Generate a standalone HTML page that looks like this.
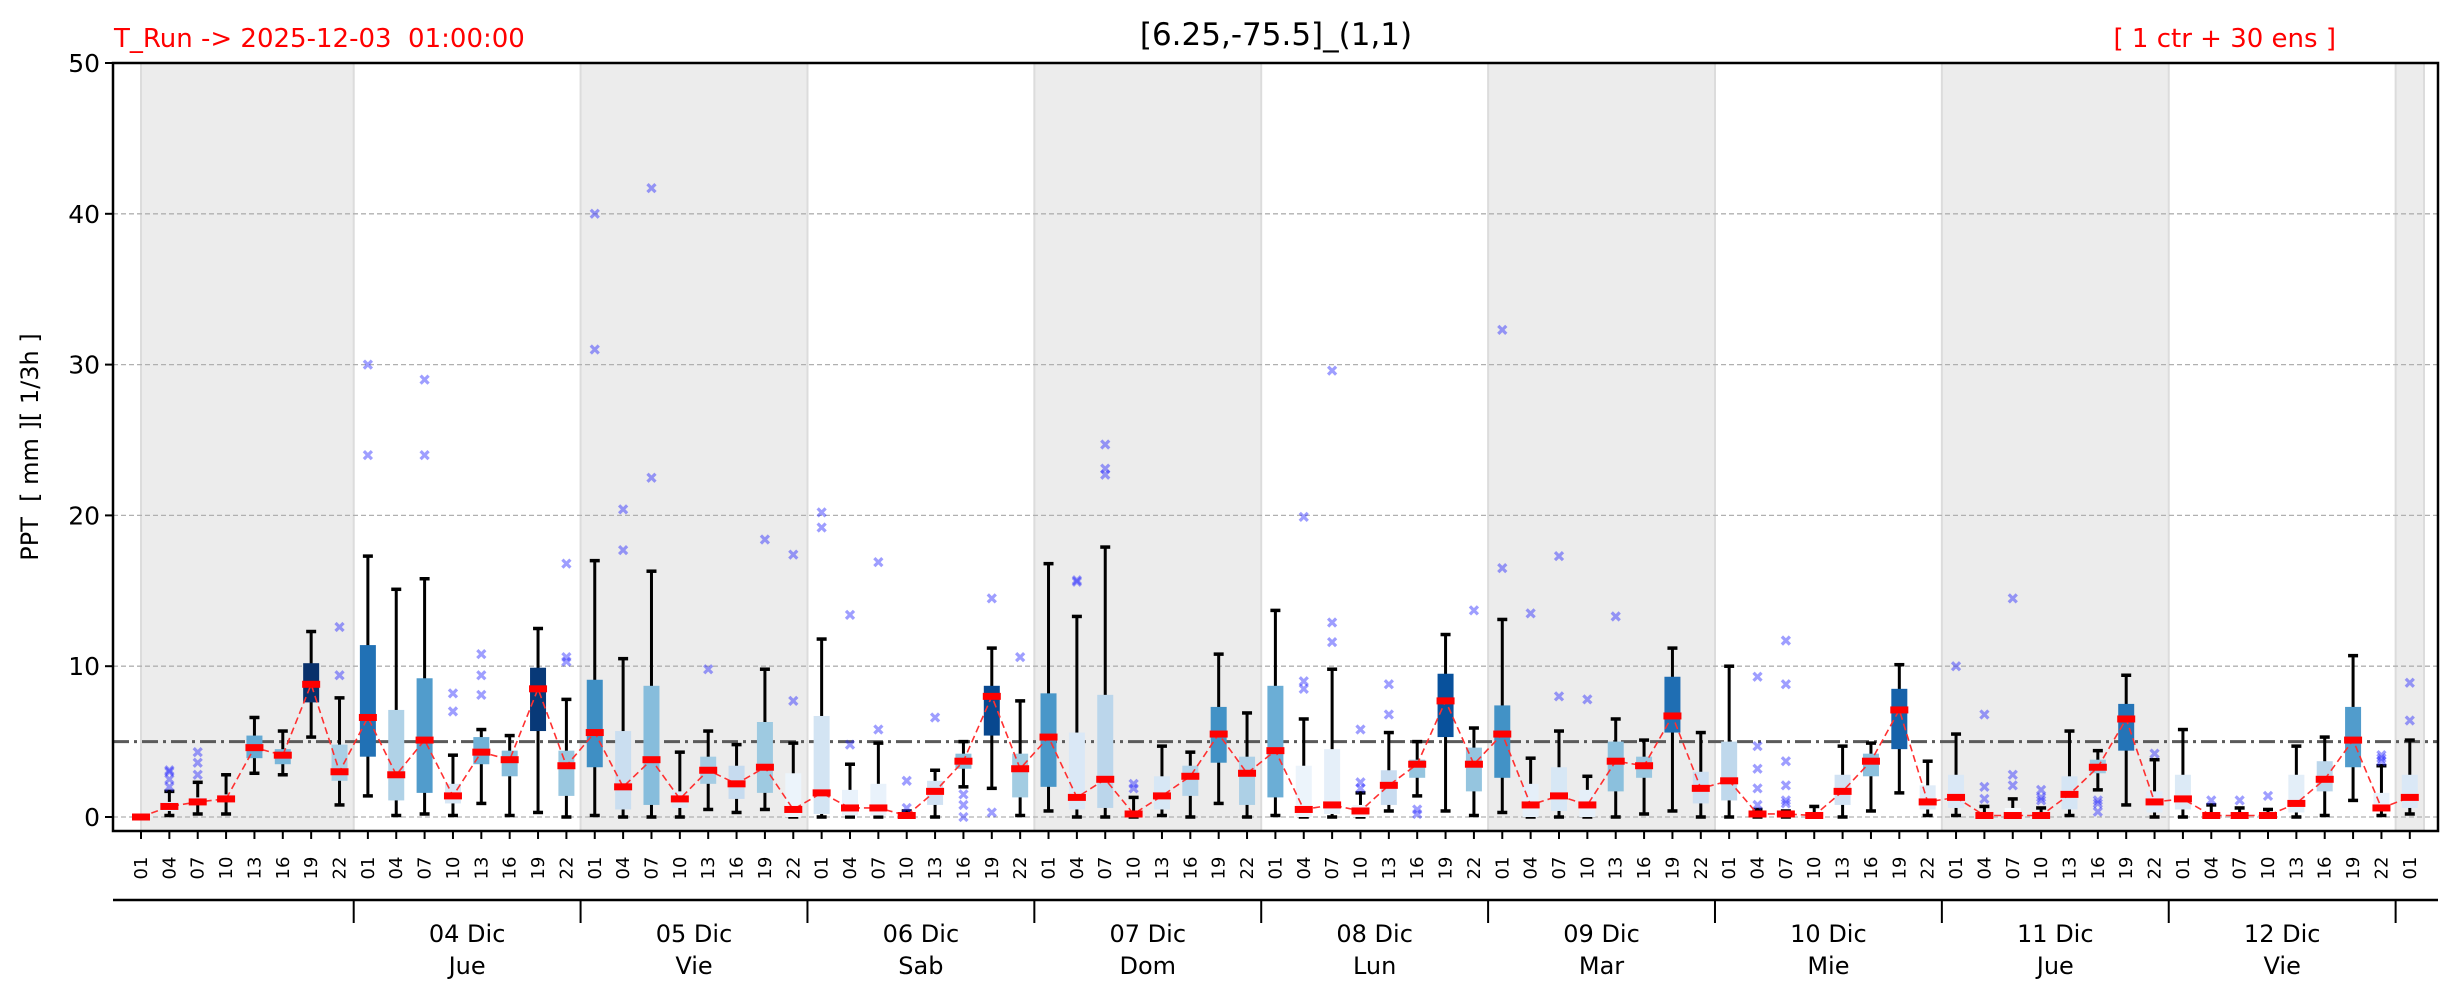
<!DOCTYPE html>
<html><head><meta charset="utf-8"><style>
html,body{margin:0;padding:0;background:#fff;}
svg{display:block;font-family:"DejaVu Sans","Liberation Sans",sans-serif;}
text{white-space:pre;}
</style></head><body>
<svg id="chart" xmlns="http://www.w3.org/2000/svg" width="2459" height="1001" viewBox="0 0 2459 1001">
<text x="114" y="47" font-size="26" fill="#ff0000" xml:space="preserve">T_Run -&gt; 2025-12-03  01:00:00</text>
<text x="1276" y="45" font-size="31" text-anchor="middle" fill="#000">[6.25,-75.5]_(1,1)</text>
<text x="2336" y="47" font-size="26" text-anchor="end" fill="#ff0000">[ 1 ctr + 30 ens ]</text>
<text transform="translate(38,447) rotate(-90)" font-size="24" text-anchor="middle" xml:space="preserve">PPT  [ mm ][ 1/3h ]</text>
<g id="bands"></g><g id="grid"></g><g id="marks"></g><g id="axes"></g>
</svg>
<script>
const lo  =[0,.1,.2,.2,2.9,2.8,5.3,.8,1.4,.1,.2,.1,.9,.1,.3,0,.1,0,0,0,.5,.3,.5,0,0,0,0,.1,0,2.0,1.9,.1,.4,0,0,0,.1,0,.9,0,.1,0,0,0,.4,1.4,.4,.1,.3,0,0,0,0,.2,.4,0,0,0,0,0,0,.4,1.6,.1,.1,.1,0,.1,.1,1.8,.8,0,0,.1,.1,.1,0,.1,1.1,.1,.2];
const q1  =[0,.4,.8,1.0,3.9,3.5,7.6,2.4,4.0,1.1,1.6,.9,3.5,2.7,5.7,1.4,3.3,.5,.8,.6,2.2,1.2,1.6,0,.2,.1,.1,.1,.8,3.2,5.4,1.3,2.0,.5,.6,.1,.5,1.4,3.6,.8,1.3,0,.2,0,.8,2.6,5.3,1.7,2.6,0,.4,0,1.7,2.6,5.6,.9,1.1,.1,.1,.05,.8,2.7,4.5,.5,.6,.1,0,.1,.5,2.9,4.4,.3,.5,.1,.1,.1,.3,1.7,3.3,.6,.6];
const q3  =[0,1.0,1.3,1.5,5.4,4.5,10.2,4.8,11.4,7.1,9.2,2.2,5.3,4.4,9.9,4.4,9.1,5.7,8.7,1.7,4.0,3.4,6.3,2.9,6.7,1.8,2.2,.2,2.4,4.2,8.7,4.2,8.2,5.6,8.1,.3,2.7,3.4,7.3,4.0,8.7,3.4,4.5,.8,3.1,3.8,9.5,4.6,7.4,2.2,3.3,1.8,5.0,4.0,9.3,3.0,5.0,.3,.3,.2,2.8,4.2,8.5,2.1,2.8,.3,.6,.3,2.7,3.8,7.5,1.7,2.8,.3,.3,.3,2.8,3.7,7.3,1.6,2.8];
const hi  =[0,1.7,2.3,2.8,6.6,5.7,12.3,7.9,17.3,15.1,15.8,4.1,5.8,5.4,12.5,7.8,17.0,10.5,16.3,4.3,5.7,4.8,9.8,4.9,11.8,3.5,4.9,.4,3.1,5.0,11.2,7.7,16.8,13.3,17.9,1.3,4.7,4.3,10.8,6.9,13.7,6.5,9.8,1.6,5.6,5.0,12.1,5.9,13.1,3.9,5.7,2.7,6.5,5.1,11.2,5.6,10.0,.5,.4,.7,4.7,4.9,10.1,3.7,5.5,.7,1.2,.6,5.7,4.4,9.4,3.8,5.8,.8,.6,.5,4.7,5.3,10.7,3.4,5.1];
const ctr =[0,.7,1.0,1.2,4.6,4.1,8.8,3.0,6.6,2.8,5.1,1.4,4.3,3.8,8.5,3.4,5.6,2.0,3.8,1.2,3.1,2.2,3.3,.5,1.6,.6,.6,.1,1.7,3.7,8.0,3.2,5.3,1.3,2.5,.2,1.4,2.7,5.5,2.9,4.4,.5,.8,.4,2.1,3.5,7.7,3.5,5.5,.8,1.4,.8,3.7,3.4,6.7,1.9,2.4,.2,.2,.1,1.7,3.7,7.1,1.0,1.3,.1,.1,.1,1.5,3.3,6.5,1.0,1.2,.1,.1,.1,.9,2.5,5.1,.6,1.3];
const outIdx=[1,1,1,1,2,2,2,7,7,8,8,10,10,11,11,12,12,12,15,15,15,16,16,17,17,18,18,20,22,23,23,24,24,25,25,26,26,27,27,28,29,29,29,30,30,31,33,33,34,34,34,35,35,41,41,41,42,42,42,43,43,43,44,44,45,45,47,48,48,49,50,50,51,52,57,57,57,57,57,58,58,58,58,58,58,64,65,65,65,66,66,66,67,67,67,69,69,69,71,73,74,75,79,79,79,80,80];
const outVal=[2,2.5,3,3.1,2.8,3.6,4.3,9.4,12.6,24,30,24,29,7,8.2,8.1,9.4,10.8,10.3,10.6,16.8,31,40,17.7,20.4,22.5,41.7,9.8,18.4,7.7,17.4,19.2,20.2,4.8,13.4,5.8,16.9,.6,2.4,6.6,0,.8,1.5,.3,14.5,10.6,15.6,15.7,22.7,23.1,24.7,1.9,2.2,19.9,8.5,9.0,29.6,11.6,12.9,1.9,2.3,5.8,6.8,8.8,.2,.5,13.7,16.5,32.3,13.5,8.0,17.3,7.8,13.3,.8,1.9,3.2,4.7,9.3,.9,1.1,2.1,3.7,8.8,11.7,10.0,1.2,2.0,6.8,2.1,2.8,14.5,1.1,1.3,1.8,.35,.9,1.1,4.2,1.1,1.1,1.4,3.7,3.9,4.1,6.4,8.9];
const hourLabels=["01","04","07","10","13","16","19","22"];
const dayLabels=["04 Dic","05 Dic","06 Dic","07 Dic","08 Dic","09 Dic","10 Dic","11 Dic","12 Dic"];
const dayNames=["Jue","Vie","Sab","Dom","Lun","Mar","Mie","Jue","Vie"];
const yTicks=[0,10,20,30,40,50];
const threshold=5;

const NS="http://www.w3.org/2000/svg";
const L=113,R=2438,T=63,B=831;
const X0=141,DX=28.36;
function xs(i){return X0+i*DX;}
function ys(v){return 817-v*15.08;}
function mk(parent,tag,attrs){const e=document.createElementNS(NS,tag);for(const k in attrs)e.setAttribute(k,attrs[k]);document.getElementById(parent).appendChild(e);return e;}
const stops=[[247,251,255],[222,235,247],[198,219,239],[158,202,225],[107,174,214],[66,146,198],[33,113,181],[8,81,156],[8,48,107]];
function blues(t){t=Math.max(0,Math.min(1,t))*8;const a=Math.floor(Math.min(t,7.999)),f=t-a;const c=stops[a].map((v,k)=>Math.round(v+(stops[a+1][k]-v)*f));return `rgb(${c[0]},${c[1]},${c[2]})`;}

const bandStarts=[0,15.5,31.5,47.5,63.5,79.5];
const bandEnds=[7.5,23.5,39.5,55.5,71.5,80.5];
bandStarts.forEach((s,k)=>{
  const r=mk('bands','rect',{x:xs(s),y:T,width:xs(bandEnds[k])-xs(s),height:B-T,fill:'#ececec',stroke:'#dcdcdc','stroke-width':2});
  
  
});
yTicks.forEach(v=>{
  if(v>0&&v<50){const g=mk('grid','line',{x1:L,x2:R,y1:ys(v),y2:ys(v),stroke:'#b0b0b0','stroke-width':1.3,'stroke-dasharray':'5,3'});
  
  }
});
const g0=mk('grid','line',{x1:L,x2:R,y1:ys(0),y2:ys(0),stroke:'#b0b0b0','stroke-width':1.3,'stroke-dasharray':'5,3'});


const th=mk('grid','line',{x1:L,x2:R,y1:ys(threshold),y2:ys(threshold),stroke:'#5a5a5a','stroke-width':3,'stroke-dasharray':'16,5,3,5'});



for(let i=0;i<ctr.length;i++){
  const x=xs(i);
  const w=mk('marks','line',{x1:x,x2:x,y1:ys(lo[i]),y2:ys(hi[i]),stroke:'#000','stroke-width':3});
  
  
  [lo[i],hi[i]].forEach(v=>{const c=mk('marks','line',{x1:x-5,x2:x+5,y1:ys(v),y2:ys(v),stroke:'#000','stroke-width':3.5});
    
    });
  const bx=mk('marks','rect',{x:x-8,y:ys(q3[i]),width:16,height:Math.max(0.5,ys(q1[i])-ys(q3[i])),fill:blues(ctr[i]/8.8)});
  
  
}
for(let k=0;k<outIdx.length;k++){
  const x=xs(outIdx[k]),y=ys(outVal[k]);
  const o=mk('marks','path',{d:`M${x-4},${y-4}L${x+4},${y+4}M${x-4},${y+4}L${x+4},${y-4}`,stroke:'rgba(40,40,255,0.45)','stroke-width':3.2});
  
  
}
let d='';
for(let i=0;i<ctr.length;i++)d+=(i?'L':'M')+xs(i)+','+ys(ctr[i]);
const cl=mk('marks','path',{d:d,fill:'none',stroke:'#ff3030','stroke-width':1.6,'stroke-dasharray':'7,4'});


for(let i=0;i<ctr.length;i++){
  const m=mk('marks','rect',{x:xs(i)-9,y:ys(ctr[i])-3.5,width:18,height:7,fill:'#ff0000'});
  
  
}
const fr=mk('axes','rect',{x:L,y:T,width:R-L,height:B-T,fill:'none',stroke:'#000','stroke-width':2.5});


yTicks.forEach(v=>{
  const t=mk('axes','line',{x1:L-8,x2:L,y1:ys(v),y2:ys(v),stroke:'#000','stroke-width':2});
  
  
  const tl=mk('axes','text',{x:L-13,y:ys(v)+9,'font-size':25,'text-anchor':'end'});
  tl.textContent=v;
  
  
});
for(let i=0;i<ctr.length;i++){
  const x=xs(i);
  const t=mk('axes','line',{x1:x,x2:x,y1:B,y2:B+8,stroke:'#000','stroke-width':2});
  
  
  const tl=mk('axes','text',{transform:`translate(${x+6},${868}) rotate(-90)`,'font-size':18,'text-anchor':'middle'});
  tl.textContent=hourLabels[i%8];
  
  
}
const sl=mk('axes','line',{x1:L,x2:R,y1:900,y2:900,stroke:'#000','stroke-width':2.5});


for(let k=0;k<=dayLabels.length;k++){
  const x=xs(7.5+8*k);
  const t=mk('axes','line',{x1:x,x2:x,y1:900,y2:923,stroke:'#000','stroke-width':2});
  
  
}
dayLabels.forEach((lab,k)=>{
  const cx=xs(11.5+8*k);
  const a=mk('axes','text',{x:cx,y:942,'font-size':24,'text-anchor':'middle'});
  a.textContent=lab;
  
  
  const b=mk('axes','text',{x:cx,y:974,'font-size':24,'text-anchor':'middle'});
  b.textContent=dayNames[k];
  
  
});
</script>
</body></html>
